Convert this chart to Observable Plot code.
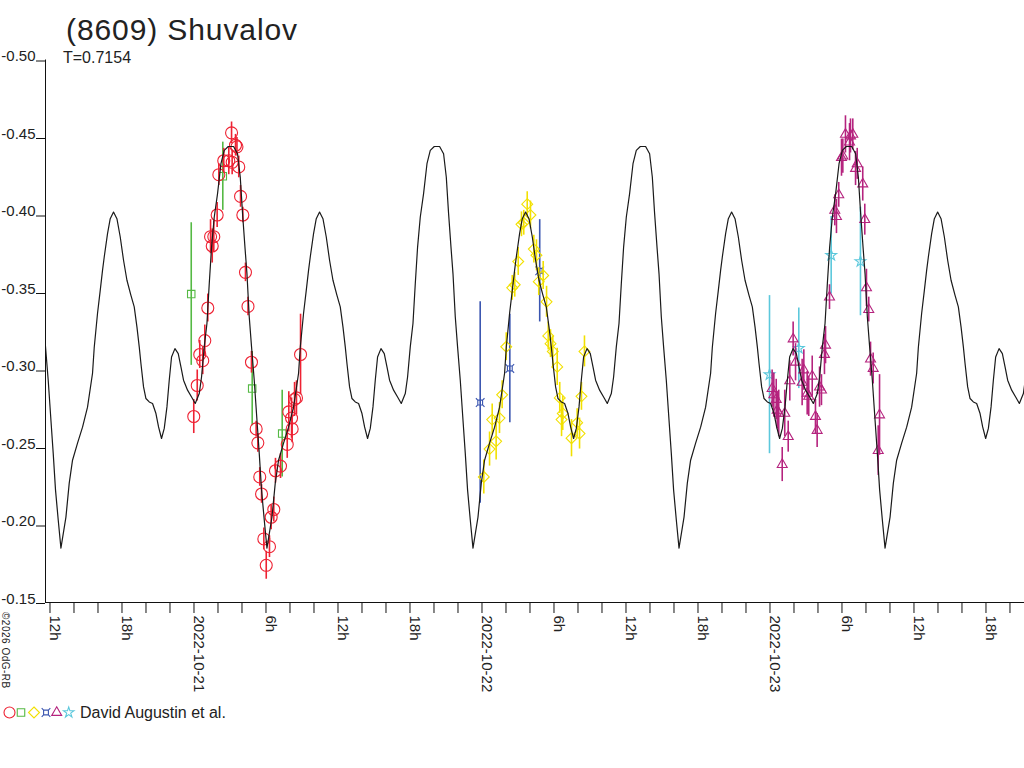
<!DOCTYPE html>
<html><head><meta charset="utf-8">
<script src="https://cdn.jsdelivr.net/npm/d3@7"></script>
<script src="https://cdn.jsdelivr.net/npm/@observablehq/plot@0.6"></script>
<style>
body{margin:0;background:#fff;}
#wrap{position:relative;width:1024px;height:768px;overflow:hidden;background:#fff;}
#wrap svg{position:absolute;left:0;top:0;}
</style></head><body><div id="wrap"></div>
<script>
// ---- data ----
const periodDays = 0.7154;
const epochHours = 6.08; // deep minimum, hours after 2022-10-21 00:00 UTC
// one rotation period of the fitted curve: phase (0..1 from deep minimum) and magnitude
const curvePhase = [0,0.0243,0.0403,0.0563,0.0806,0.1049,0.1291,0.1534,0.1617,0.1777,0.1908,0.2019,0.2102,0.2262,0.2393,0.2553,0.2718,0.2879,0.3039,0.3204,0.3398,0.3558,0.3689,0.3801,0.3883,0.4010,0.4126,0.4286,0.4447,0.4612,0.4738,0.4883,0.5015,0.5146,0.5257,0.5369,0.5534,0.5694,0.5825,0.5951,0.6146,0.6340,0.6519,0.6714,0.6825,0.6956,0.7087,0.7199,0.7311,0.7442,0.7602,0.7767,0.7927,0.8121,0.8379,0.8573,0.8704,0.8816,0.8932,0.9029,0.9141,0.9252,0.9383,0.9515,0.9626,0.9738,0.9869];
const curveMag = [-0.1851,-0.2051,-0.2270,-0.2418,-0.2528,-0.2631,-0.2760,-0.2979,-0.3147,-0.3366,-0.3514,-0.3643,-0.3729,-0.3880,-0.3976,-0.4019,-0.3976,-0.3858,-0.3708,-0.3579,-0.3482,-0.3407,-0.3278,-0.3149,-0.3042,-0.2891,-0.2816,-0.2794,-0.2784,-0.2719,-0.2633,-0.2558,-0.2623,-0.2762,-0.2934,-0.3084,-0.3138,-0.3106,-0.3020,-0.2934,-0.2870,-0.2826,-0.2784,-0.2848,-0.2955,-0.3149,-0.3300,-0.3557,-0.3793,-0.3987,-0.4138,-0.4331,-0.4417,-0.4442,-0.4442,-0.4395,-0.4245,-0.4009,-0.3793,-0.3622,-0.3342,-0.3149,-0.2934,-0.2676,-0.2462,-0.2225,-0.2032];

// observations: hours after 2022-10-21 00:00 UTC, magnitude, error
const redHours = [-0.02,0.27,0.48,0.73,0.90,1.15,1.38,1.52,1.65,1.93,2.07,2.48,2.90,3.13,3.18,3.46,3.58,3.73,3.88,4.07,4.29,4.50,4.79,5.18,5.32,5.48,5.63,5.82,6.02,6.29,6.43,6.65,6.79,7.21,7.77,7.90,8.13,8.18,8.38,8.54,8.88];
const redMag = [-0.270,-0.290,-0.310,-0.306,-0.319,-0.340,-0.386,-0.380,-0.386,-0.400,-0.426,-0.435,-0.435,-0.453,-0.434,-0.445,-0.444,-0.431,-0.412,-0.400,-0.363,-0.341,-0.305,-0.262,-0.253,-0.231,-0.220,-0.191,-0.174,-0.186,-0.205,-0.210,-0.235,-0.238,-0.252,-0.273,-0.269,-0.262,-0.281,-0.282,-0.310];
const redErr = [0.011,0.010,0.009,0.009,0.010,0.009,0.011,0.011,0.010,0.008,0.007,0.008,0.009,0.007,0.008,0.007,0.006,0.007,0.007,0.005,0.006,0.006,0.007,0.005,0.006,0.006,0.006,0.007,0.009,0.007,0.008,0.008,0.008,0.008,0.009,0.013,0.013,0.009,0.011,0.011,0.026];

const greenHours = [-0.23,2.40,4.85,7.35];
const greenMag = [-0.349,-0.425,-0.288,-0.259];
const greenErr = [0.046,0.022,0.024,0.028];

const yellowHours = [24.15,24.63,24.85,25.18,25.46,25.68,26.02,26.52,26.73,27.02,27.29,27.48,27.77,28.04,28.32,28.54,28.73,29.10,29.38,29.52,29.71,29.90,30.27,30.48,30.63,30.73,31.46,31.93,32.13,32.29,32.54];
const yellowMag = [-0.231,-0.249,-0.268,-0.254,-0.269,-0.284,-0.315,-0.353,-0.355,-0.370,-0.394,-0.395,-0.407,-0.400,-0.378,-0.374,-0.357,-0.361,-0.344,-0.322,-0.317,-0.312,-0.302,-0.282,-0.268,-0.272,-0.256,-0.266,-0.259,-0.283,-0.312];
const yellowErr = [0.011,0.011,0.010,0.012,0.010,0.009,0.009,0.008,0.008,0.009,0.008,0.008,0.008,0.009,0.009,0.010,0.009,0.009,0.010,0.009,0.009,0.010,0.012,0.010,0.011,0.011,0.012,0.009,0.010,0.009,0.010];

const blueHours = [23.85,26.32,28.81];
const blueMag = [-0.279,-0.301,-0.364];
const blueErr = [0.065,0.035,0.033];

const magentaHours = [48.18,48.32,48.52,48.60,48.73,49.02,49.23,49.52,49.65,49.93,50.13,50.68,50.82,51.10,51.23,51.52,51.79,51.93,52.13,52.29,52.54,52.63,52.96,53.40,53.54,53.73,53.96,54.07,54.29,54.63,54.71,54.90,55.13,55.27,55.73,55.90,56.04,56.23,56.38,56.60,57.02,57.13];
const magentaMag = [-0.288,-0.284,-0.281,-0.274,-0.272,-0.239,-0.272,-0.257,-0.293,-0.320,-0.305,-0.292,-0.300,-0.285,-0.283,-0.296,-0.270,-0.261,-0.289,-0.287,-0.310,-0.316,-0.347,-0.403,-0.399,-0.413,-0.437,-0.438,-0.452,-0.447,-0.451,-0.452,-0.430,-0.433,-0.420,-0.397,-0.353,-0.339,-0.307,-0.301,-0.248,-0.271];
const magentaErr = [0.012,0.014,0.013,0.012,0.015,0.011,0.015,0.010,0.013,0.011,0.012,0.015,0.013,0.014,0.013,0.013,0.011,0.011,0.013,0.010,0.013,0.012,0.008,0.010,0.011,0.008,0.012,0.011,0.012,0.012,0.011,0.010,0.011,0.010,0.011,0.010,0.012,0.008,0.011,0.010,0.016,0.026];

const cyanHours = [47.96,50.40,53.10,55.54];
const cyanMag = [-0.297,-0.314,-0.374,-0.370];
const cyanErr = [0.051,0.026,0.025,0.035];

const yTicks = [-0.50,-0.45,-0.40,-0.35,-0.30,-0.25,-0.20,-0.15];
const titleText = "(8609) Shuvalov";
const subtitleText = "T=0.7154";
const legendText = "David Augustin et al.";
const copyrightText = "\u00a92026 OdG-RB";

// ---- build ----
const base = Date.UTC(2022, 9, 21);
const toDate = h => new Date(base + h * 3600e3);
const xMin = toDate(-12.375), xMax = toDate(69.21);

const xSquare = {
  draw(ctx, size) {
    const a = Math.sqrt(size) * 0.3, b = a * 1.8;
    ctx.moveTo(-a, -a); ctx.lineTo(a, -a); ctx.lineTo(a, a); ctx.lineTo(-a, a); ctx.closePath();
    ctx.moveTo(-a, -a); ctx.lineTo(-b, -b);
    ctx.moveTo(a, -a); ctx.lineTo(b, -b);
    ctx.moveTo(a, a); ctx.lineTo(b, b);
    ctx.moveTo(-a, a); ctx.lineTo(-b, b);
  }
};

const series = [
  {hours: greenHours, mag: greenMag, err: greenErr, color: "#55b944", symbol: "square", r: 4.2},
  {hours: redHours, mag: redMag, err: redErr, color: "#ee2233", symbol: "circle", r: 6},
  {hours: blueHours, mag: blueMag, err: blueErr, color: "#3a55b0", symbol: xSquare, r: 4.5},
  {hours: yellowHours, mag: yellowMag, err: yellowErr, color: "#f2e000", symbol: "diamond2", r: 4.9},
  {hours: cyanHours, mag: cyanMag, err: cyanErr, color: "#5cc8dc", symbol: "star", r: 3.4},
  {hours: magentaHours, mag: magentaMag, err: magentaErr, color: "#b5237e", symbol: "triangle", r: 3.7}
];

const curve = [];
for (let k = -2; k <= 4; k++) {
  for (let i = 0; i < curvePhase.length; i++) {
    const h = epochHours + (k + curvePhase[i]) * periodDays * 24;
    if (h > -16 && h < 72) curve.push({t: toDate(h), m: curveMag[i]});
  }
}

const xTicks = d3.utcHour.every(2).range(toDate(-12.375), toDate(69.3));
const fmtDay = d3.utcFormat("%Y-%m-%d");
const xFmt = d => {
  const h = d.getUTCHours();
  if (h === 0) return fmtDay(d);
  return h % 6 === 0 ? h + "h" : "";
};

const marks = [];
for (const s of series) {
  const pts = s.hours.map((h, i) => ({t: toDate(h), m: s.mag[i], e: s.err[i]}));
  marks.push(Plot.ruleX(pts, {x: "t", y1: d => d.m - d.e, y2: d => d.m + d.e, stroke: s.color, strokeWidth: 1.6}));
  marks.push(Plot.dot(pts, {x: "t", y: "m", symbol: s.symbol, r: s.r, stroke: s.color, fill: "none", strokeWidth: 1.1}));
}
marks.push(Plot.line(curve, {x: "t", y: "m", stroke: "#1a1a1a", strokeWidth: 1.2, clip: true}));
marks.push(Plot.ruleX([xMin], {stroke: "#111"}));
marks.push(Plot.ruleY([-0.15], {stroke: "#111"}));
marks.push(Plot.axisY({ticks: yTicks, tickSize: 9, tickPadding: 1, tickFormat: d => d.toFixed(2), fontSize: 15, lineAnchor: "bottom", dy: 1, stroke: "#111", label: null}));
marks.push(Plot.axisX({ticks: xTicks, tickSize: 11, tickPadding: 2, tickRotate: 90, textAnchor: "start", lineAnchor: "bottom", tickFormat: xFmt, fontSize: 15, stroke: "#111", label: null}));

const chart = Plot.plot({
  width: 1024, height: 768,
  marginTop: 59.5, marginBottom: 166, marginLeft: 45, marginRight: 0,
  style: {fontFamily: "'Liberation Sans', Arial, sans-serif", color: "#222", background: "transparent", overflow: "visible"},
  x: {type: "utc", domain: [xMin, xMax], label: null},
  y: {domain: [-0.15, -0.50], label: null},
  marks
});
const wrap = document.getElementById("wrap");
wrap.appendChild(chart);

// ---- overlay texts: title, subtitle, legend, copyright ----
const ov = d3.select(wrap).append("svg").attr("width", 1024).attr("height", 768)
  .style("font-family", "'Liberation Sans', Arial, sans-serif").style("pointer-events", "none");
ov.append("text").attr("x", 66).attr("y", 40).attr("font-size", 30).attr("letter-spacing", 0.9).attr("fill", "#222").text(titleText);
ov.append("text").attr("x", 63).attr("y", 63).attr("font-size", 16).attr("fill", "#222").text(subtitleText);
ov.append("text").attr("transform", "translate(2,612) rotate(90)").attr("font-size", 10).attr("letter-spacing", 0.5).attr("fill", "#222").text(copyrightText);

const legendSyms = [
  {type: d3.symbolCircle, size: 95, x: 9.5, color: "#ee2233"},
  {type: d3.symbolSquare, size: 56, x: 21, color: "#55b944"},
  {type: d3.symbolDiamond2, size: 77, x: 34, color: "#f2e000"},
  {type: xSquare, size: 64, x: 46, color: "#3a55b0"},
  {type: d3.symbolTriangle, size: 43, x: 56.7, color: "#b5237e"},
  {type: d3.symbolStar, size: 34, x: 68.7, color: "#5cc8dc"}
];
for (const s of legendSyms) {
  ov.append("path").attr("d", d3.symbol(s.type, s.size)()).attr("transform", `translate(${s.x},712.5)`)
    .attr("fill", "none").attr("stroke", s.color).attr("stroke-width", 1.1);
}
ov.append("text").attr("x", 80).attr("y", 718).attr("font-size", 16).attr("fill", "#222").text(legendText);
</script>
</body></html>
